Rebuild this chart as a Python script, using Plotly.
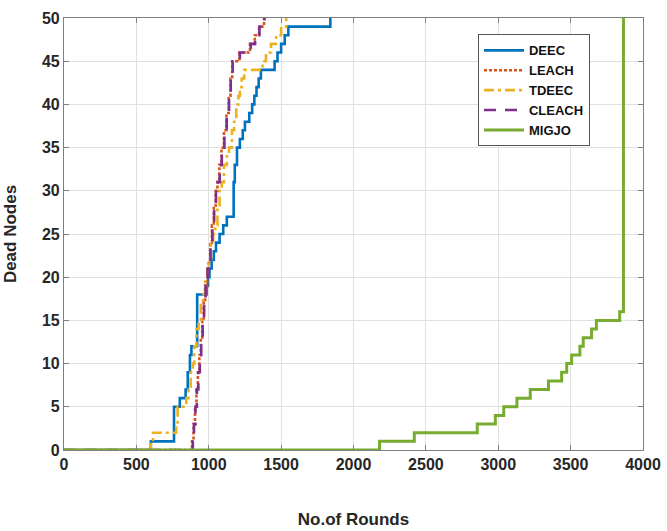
import plotly.graph_objects as go

# ---- data (rounds at which dead-node count steps up, and the count) ----
deec_x = [0, 600, 760, 800, 840, 855, 870, 880, 920, 985, 995, 1005, 1020, 1035, 1050, 1075, 1100, 1125,
          1172, 1180, 1195, 1215, 1235, 1250, 1280, 1300, 1315, 1330, 1345, 1360, 1455, 1475, 1500, 1525,
          1550, 1840, 1840]
deec_y = [0, 1, 5, 6, 7, 9, 11, 12, 18, 19, 20, 21, 22, 23, 24, 25, 26, 27,
          31, 33, 35, 36, 37, 38, 39, 40, 41, 42, 43, 44, 45, 46, 47, 48,
          49, 50, 50]

leach_x = [0, 885, 895, 905, 915, 925, 935, 945, 955, 965, 975, 990, 1000, 1010, 1022, 1035, 1048, 1060,
           1073, 1088, 1105, 1122, 1138, 1150, 1162, 1212, 1285, 1318, 1348, 1382]
leach_y = [0, 1, 3, 5, 7, 9, 11, 13, 15, 17, 19, 21, 22, 24, 26, 28, 30, 31,
           33, 35, 37, 39, 41, 43, 45, 46, 47, 48, 49, 50]

tdeec_x = [0, 600, 615, 775, 785, 845, 860, 875, 890, 900, 915, 930, 945, 960, 975, 990, 1000, 1015,
           1030, 1045, 1060, 1075, 1090, 1105, 1125, 1140, 1160, 1175, 1190, 1205, 1215, 1228, 1245,
           1372, 1395, 1430, 1465, 1500, 1535]
tdeec_y = [0, 1, 2, 3, 5, 6, 7, 9, 10, 12, 14, 15, 17, 18, 20, 21, 22, 24,
           25, 26, 28, 30, 31, 33, 34, 35, 37, 38, 40, 41, 42, 43, 44,
           45, 46, 47, 48, 49, 50]

cleach_x = [0, 890, 898, 908, 918, 928, 938, 948, 958, 968, 978, 992, 1002, 1012, 1025, 1037, 1050, 1062,
            1076, 1090, 1108, 1124, 1140, 1152, 1165, 1215, 1290, 1320, 1350, 1385]
cleach_y = [0, 1, 3, 5, 7, 9, 11, 13, 15, 17, 19, 21, 22, 24, 26, 28, 30, 31,
            33, 35, 37, 39, 41, 43, 45, 46, 47, 48, 49, 50]

migjo_x = [0, 2180, 2420, 2855, 2980, 3038, 3129, 3221, 3347, 3438, 3473, 3507, 3564, 3587, 3645,
           3678, 3839, 3865]
migjo_y = [0, 1, 2, 3, 4, 5, 6, 7, 8, 9, 10, 11, 12, 13, 14,
           15, 16, 50]

x_ticks = [0, 500, 1000, 1500, 2000, 2500, 3000, 3500, 4000]
y_ticks = [0, 5, 10, 15, 20, 25, 30, 35, 40, 45, 50]

series = [
    ("DEEC", deec_x, deec_y, "#0072BD", "solid", 2.6),
    ("LEACH", leach_x, leach_y, "#D95319", "3px,2px", 2.6),
    ("TDEEC", tdeec_x, tdeec_y, "#EDB120", "10px,4px,3px,4px", 2.6),
    ("CLEACH", cleach_x, cleach_y, "#7E2F8E", "12px,9px", 2.6),
    ("MIGJO", migjo_x, migjo_y, "#77AC30", "solid", 3.0),
]

fig = go.Figure()
for name, xs, ys, col, dash, w in series:
    fig.add_trace(go.Scatter(x=xs, y=ys, name=name, mode="lines",
                             line=dict(color=col, dash=dash, width=w, shape="hv")))

FONT = "Liberation Sans, Arial, sans-serif"
axis_common = dict(
    showline=True, linecolor="#7f7f7f", linewidth=1.2, mirror="allticks",
    ticks="inside", ticklen=5, tickcolor="#7f7f7f", tickwidth=1,
    showgrid=True, gridcolor="#e0e0e0", gridwidth=1, zeroline=False,
    tickfont=dict(family=FONT, size=16, color="#262626", weight="bold"),
    automargin=False,
)

fig.update_layout(
    width=667, height=531,
    margin=dict(l=64, r=24, t=18, b=81),
    paper_bgcolor="white", plot_bgcolor="white",
    font=dict(family=FONT, color="#262626"),
    xaxis=dict(range=[0, 4000], tickvals=x_ticks, ticktext=[str(v) for v in x_ticks],
               title=dict(text="<b>No.of Rounds</b>", font=dict(family=FONT, size=17, color="#262626"),
                          standoff=40),
               **axis_common),
    yaxis=dict(range=[0, 50], tickvals=y_ticks, ticktext=[str(v) for v in y_ticks],
               title=dict(text="<b>Dead Nodes</b>", font=dict(family=FONT, size=17, color="#262626"),
                          standoff=20),
               **axis_common),
    legend=dict(x=0.715, y=0.962, xanchor="left", yanchor="top",
                bgcolor="white", bordercolor="#555555", borderwidth=1,
                font=dict(family=FONT, size=13, color="#111111", weight="bold"),
                tracegroupgap=0, itemwidth=40),
    showlegend=True,
)

fig.write_html("out.html")
